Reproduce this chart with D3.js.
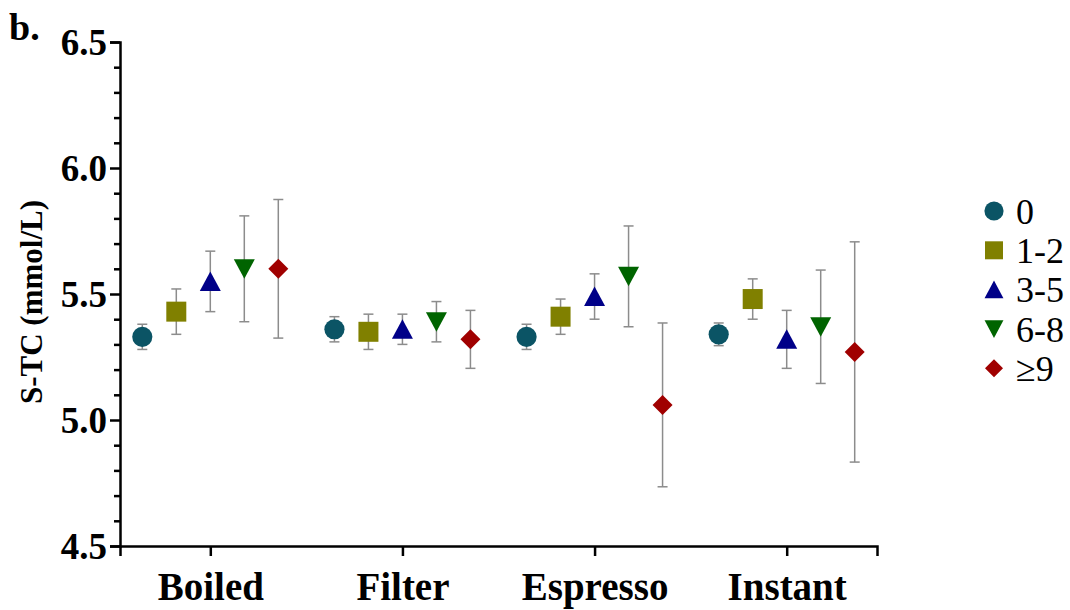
<!DOCTYPE html>
<html>
<head>
<meta charset="utf-8">
<script src="https://cdn.jsdelivr.net/npm/d3@7"></script>
<style>
  body { margin: 0; background: #fff; }
  text { font-family: "Liberation Serif", "DejaVu Serif", serif; }
</style>
</head>
<body>
<div id="chart"></div>
<script>
// data (mean and half-width of error bar)
const categories = ['Boiled', 'Filter', 'Espresso', 'Instant'];
const groups = ['0', '1-2', '3-5', '6-8', '≥9'];
const means = [
  [5.33, 5.43, 5.55, 5.60, 5.60],   // Boiled
  [5.36, 5.35, 5.36, 5.39, 5.32],   // Filter
  [5.33, 5.41, 5.49, 5.57, 5.06],   // Espresso
  [5.34, 5.48, 5.32, 5.37, 5.27]    // Instant
];
const errors = [
  [0.05, 0.09, 0.12, 0.21, 0.275],
  [0.05, 0.07, 0.06, 0.08, 0.115],
  [0.05, 0.07, 0.09, 0.20, 0.325],
  [0.045, 0.08, 0.115, 0.225, 0.437]
];
const yTicks = [4.5, 5.0, 5.5, 6.0, 6.5];
const colors = ['#0b5465', '#808000', '#000088', '#006400', '#a00000'];
const shapes = ['circle', 'square', 'up', 'down', 'diamond'];

const width = 1070, height = 610;
const svg = d3.select('#chart').append('svg')
  .attr('width', width).attr('height', height);

const x = d3.scalePoint().domain(categories).range([120, 877]).padding(0.47);
const y = d3.scaleLinear().domain([4.5, 6.5]).range([546, 42]);
const offset = d3.scalePoint().domain(groups).range([-68, 68]);

function symbolPath(shape) {
  // drawn around (0,0)
  if (shape === 'circle') return d3.symbol(d3.symbolCircle, 320)();
  if (shape === 'square') return 'M-10,-10H10V10H-10Z';
  if (shape === 'up') return 'M0,-10L10.5,9.5H-10.5Z';
  if (shape === 'down') return 'M0,10L-10.5,-9.5H10.5Z';
  return 'M0,-10L10,0L0,10L-10,0Z';
}

// flatten
const pts = [];
categories.forEach((c, i) => {
  groups.forEach((g, j) => {
    pts.push({ cat: c, grp: g, j, mean: means[i][j], err: errors[i][j] });
  });
});

// error bars
const eb = svg.append('g').attr('stroke', '#8c8c8c').attr('stroke-width', 1.5);
pts.forEach(d => {
  const cx = x(d.cat) + offset(d.grp);
  eb.append('line').attr('x1', cx).attr('x2', cx)
    .attr('y1', y(d.mean + d.err)).attr('y2', y(d.mean - d.err));
  [d.mean + d.err, d.mean - d.err].forEach(v => {
    eb.append('line').attr('x1', cx - 5).attr('x2', cx + 5)
      .attr('y1', y(v)).attr('y2', y(v));
  });
});

// markers
svg.append('g').selectAll('path')
  .data(pts)
  .enter()
  .append('path')
  .attr('d', d => symbolPath(shapes[d.j]))
  .attr('transform', d => `translate(${x(d.cat) + offset(d.grp)},${y(d.mean)})`)
  .attr('fill', d => colors[d.j]);

// y axis with minor ticks
const yAxis = svg.append('g').attr('transform', 'translate(120,0)')
  .call(d3.axisLeft(y).tickValues(yTicks).tickFormat(d3.format('.1f')).tickSize(10).tickPadding(3));
svg.append('g').attr('transform', 'translate(120,0)')
  .call(d3.axisLeft(y).tickValues(d3.range(4.6, 6.5, 0.1).filter(v => Math.abs(v * 2 - Math.round(v * 2)) > 0.01)).tickFormat('').tickSize(6))
  .call(g => g.select('.domain').remove());

// x axis
const xAxis = svg.append('g').attr('transform', 'translate(0,546)')
  .call(d3.axisBottom(x).tickSize(10).tickPadding(16));

svg.selectAll('.domain').attr('stroke-width', 2.5).attr('stroke', '#000');
svg.selectAll('.tick line').attr('stroke-width', 2.5).attr('stroke', '#000');
yAxis.selectAll('text').attr('font-size', 37).attr('font-weight', 'bold').attr('fill', '#000')
  .attr('font-family', '"Liberation Serif", serif').attr('dy', '0.34em');
xAxis.selectAll('text').attr('font-size', 39).attr('font-weight', 'bold').attr('fill', '#000')
  .attr('font-family', '"Liberation Serif", serif');

// y title
svg.append('text')
  .attr('transform', 'translate(42,302) rotate(-90)')
  .attr('text-anchor', 'middle')
  .attr('font-size', 31).attr('font-weight', 'bold')
  .text('S-TC (mmol/L)');

// panel letter
svg.append('text').attr('x', 9).attr('y', 40)
  .attr('font-size', 38).attr('font-weight', 'bold').text('b.');

// legend
const legend = svg.append('g');
groups.forEach((g, j) => {
  const ly = 211 + j * 39.3;
  legend.append('path')
    .attr('d', symbolPath(shapes[j]))
    .attr('transform', `translate(994,${ly}) scale(${j === 0 ? 0.95 : 0.9})`)
    .attr('fill', colors[j]);
  legend.append('text').attr('x', 1016).attr('y', ly).attr('dy', '0.35em')
    .attr('font-size', 36).text(g);
});
</script>
</body>
</html>
